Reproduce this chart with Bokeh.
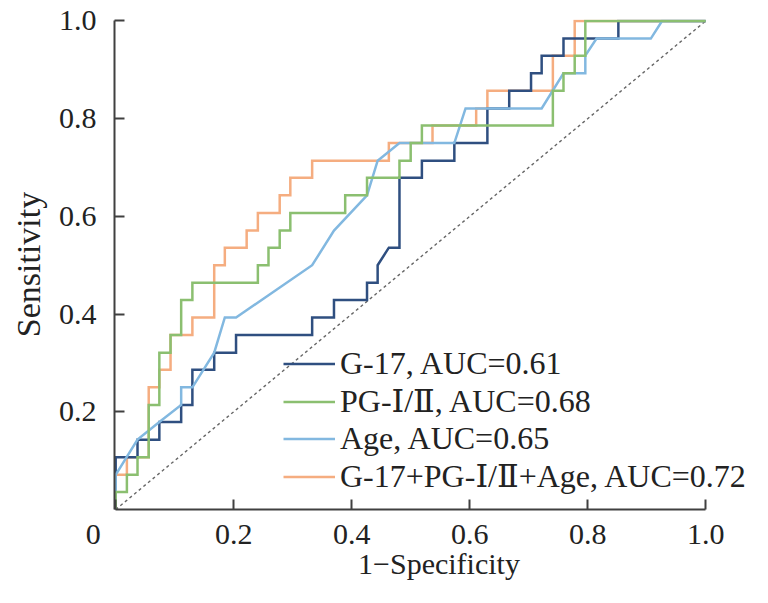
from bokeh.plotting import figure
from bokeh.models import Range1d, FixedTicker, Legend, LegendItem
from bokeh.embed import file_html
from bokeh.resources import INLINE

# ---- data ----
x_tick_values = [0, 0.2, 0.4, 0.6, 0.8, 1.0]
x_tick_labels = ["0\u00a0\u00a0\u00a0\u00a0\u00a0\u00a0", "0.2", "0.4", "0.6", "0.8", "1.0"]
y_tick_values = [0.2, 0.4, 0.6, 0.8, 1.0]
y_tick_labels = ["0.2", "0.4", "0.6", "0.8", "1.0"]

g17_x = [0, 0, .037, .037, .074, .074, .111, .111, .130, .130, .167, .167, .204, .204, .333, .333,
         .370, .370, .426, .426, .444, .444, .463, .481, .481, .519, .519, .574, .574, .630, .630,
         .667, .667, .704, .704, .722, .722, .759, .759, .852, .852, 1]
g17_y = [0, .107, .107, .143, .143, .179, .179, .214, .214, .286, .286, .321, .321, .357, .357, .393,
         .393, .429, .429, .464, .464, .500, .536, .536, .679, .679, .714, .714, .750, .750, .821,
         .821, .857, .857, .893, .893, .929, .929, .964, .964, 1, 1]

pg_x = [0, 0, .019, .019, .037, .037, .056, .056, .074, .074, .093, .093, .111, .111, .130, .130,
        .241, .241, .259, .259, .278, .278, .296, .296, .389, .389, .426, .426, .481, .481, .500,
        .500, .519, .519, .741, .741, .759, .759, .778, .778, .796, .796, 1]
pg_y = [0, .036, .036, .071, .071, .107, .107, .214, .214, .321, .321, .357, .357, .429, .429, .464,
        .464, .500, .500, .536, .536, .571, .571, .607, .607, .643, .643, .679, .679, .714, .714,
        .750, .750, .786, .786, .857, .857, .893, .893, .929, .929, 1, 1]

age_x = [0, 0, .037, .074, .111, .111, .130, .167, .185, .204, .333, .370, .426, .444, .481, .574,
         .593, .722, .759, .796, .796, .815, .907, .926, 1]
age_y = [0, .071, .143, .179, .214, .250, .250, .321, .393, .393, .500, .571, .643, .714, .750, .750,
         .821, .821, .893, .893, .929, .964, .964, 1, 1]

comb_x = [0, 0, .019, .019, .056, .056, .074, .074, .093, .093, .130, .130, .167, .167, .185, .185,
          .222, .222, .241, .241, .278, .278, .296, .296, .333, .333, .463, .463, .537, .537, .611,
          .611, .630, .630, .741, .741, .778, .778, 1]
comb_y = [0, .071, .071, .107, .107, .250, .250, .286, .286, .357, .357, .393, .393, .500, .500, .536,
          .536, .571, .571, .607, .607, .643, .643, .679, .679, .714, .714, .750, .750, .786, .786,
          .821, .821, .857, .857, .929, .929, 1, 1]

ref_x = [0, 1]
ref_y = [0, 1]

labels = ["G-17, AUC=0.61", "PG-Ⅰ/Ⅱ, AUC=0.68", "Age, AUC=0.65", "G-17+PG-Ⅰ/Ⅱ+Age, AUC=0.72"]
colors = ["#2f4f80", "#8bbf70", "#82b8e0", "#f5ad80"]

FONT = "Liberation Serif"
LEG_FONT = "'Liberation Serif', 'DejaVu Serif'"
TXT = "#222222"

p = figure(width=766, height=600,
           x_range=Range1d(-0.002, 1.098), y_range=Range1d(0, 1.003),
           output_backend="svg", toolbar_location=None,
           min_border_left=114, min_border_right=3, min_border_top=19, min_border_bottom=91)
p.grid.visible = False
p.outline_line_color = None
p.background_fill_color = "white"

p.line(ref_x, ref_y, line_color="#666666", line_width=1.4, line_dash="3 3")
r_comb = p.line(comb_x, comb_y, line_color=colors[3], line_width=2.5, line_join="miter")
r_g17 = p.line(g17_x, g17_y, line_color=colors[0], line_width=2.5, line_join="miter")
r_age = p.line(age_x, age_y, line_color=colors[2], line_width=2.5, line_join="miter")
r_pg = p.line(pg_x, pg_y, line_color=colors[1], line_width=2.5, line_join="miter")

xa = p.xaxis[0]
ya = p.yaxis[0]
xa.ticker = FixedTicker(ticks=x_tick_values)
xa.major_label_overrides = {v: t for v, t in zip(x_tick_values, x_tick_labels)}
ya.ticker = FixedTicker(ticks=y_tick_values)
ya.major_label_overrides = {v: t for v, t in zip(y_tick_values, y_tick_labels)}
xa.bounds = (0, 1)
ya.bounds = (0, 1)

for ax in (xa, ya):
    ax.minor_tick_line_color = None
    ax.axis_line_color = "#404040"
    ax.axis_line_width = 2
    ax.major_tick_line_color = "#404040"
    ax.major_tick_line_width = 2
    ax.major_tick_in = 10
    ax.major_tick_out = 0
    ax.major_label_text_font = FONT
    ax.major_label_text_font_size = "30px"
    ax.major_label_text_color = TXT
    ax.axis_label_text_font = FONT
    ax.axis_label_text_font_style = "normal"
    ax.axis_label_text_color = TXT

xa.axis_label = "1−Specificity"
ya.axis_label = "Sensitivity"
xa.axis_label_text_font_size = "30px"
ya.axis_label_text_font_size = "34px"
xa.major_label_standoff = 7
ya.major_label_standoff = 18
xa.axis_label_standoff = -6
ya.axis_label_standoff = 9

legend = Legend(items=[LegendItem(label=labels[0], renderers=[r_g17]),
                       LegendItem(label=labels[1], renderers=[r_pg]),
                       LegendItem(label=labels[2], renderers=[r_age]),
                       LegendItem(label=labels[3], renderers=[r_comb])],
                location=(169, 14), border_line_color=None, background_fill_alpha=0,
                padding=0, margin=0, spacing=-3, glyph_width=52, glyph_height=33,
                label_height=33, label_standoff=5,
                label_text_font=LEG_FONT, label_text_font_size="32px", label_text_color=TXT)
p.add_layout(legend)

open("out.html", "w").write(file_html(p, INLINE))
